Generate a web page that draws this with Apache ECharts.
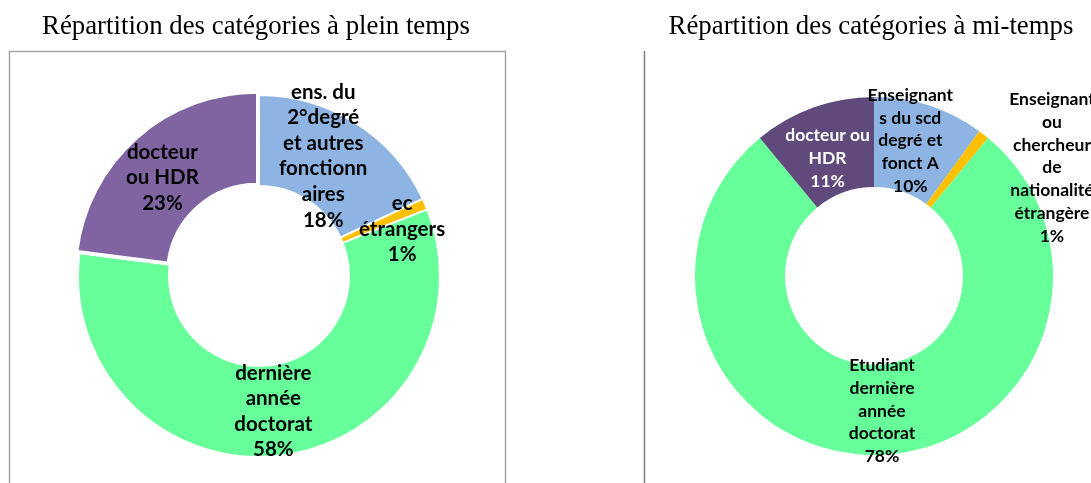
<!DOCTYPE html>
<html>
<head>
<meta charset="utf-8">
<script src="https://cdn.jsdelivr.net/npm/echarts@6/dist/echarts.min.js"></script>
<style>
  html, body { margin: 0; padding: 0; background: #fff; }
  #main { width: 1091px; height: 483px; }
</style>
</head>
<body>
<div id="main"></div>
<script>
// plein temps
var fullNames = ['ens. du\n2°degré\net autres\nfonctionn\naires', 'ec\nétrangers', 'dernière\nannée\ndoctorat', 'docteur\nou HDR'];
var fullValues = [18, 1, 58, 23];
// mi-temps
var halfNames = ['Enseignant\ns du scd\ndegré et\nfonct A', 'Enseignant\nou\nchercheur\nde\nnationalité\nétrangère', 'Etudiant\ndernière\nannée\ndoctorat', 'docteur ou\nHDR'];
var halfValues = [10, 1, 78, 11];

// styles
var fullColors = ['#8db4e2', '#ffc000', '#66ff99', '#8064a2'];
var halfColors = ['#8db4e2', '#ffc000', '#66ff99', '#604a7b'];
var fullOffsets = [[-10, -3], [16, 8], [-3, -2], [-3, 8]];
var halfOffsets = [[-6, -5], [94, 0], [8, -2], [0, 11]];
var halfTextColors = ['#000', '#000', '#000', '#fff'];

function buildData(names, values, colors, offsets, textColors) {
    return names.map(function (n, i) {
        return {
            name: n,
            value: values[i],
            itemStyle: { color: colors[i] },
            label: { offset: offsets[i], color: textColors ? textColors[i] : '#000' },
            select: { label: { offset: offsets[i] } }
        };
    });
}

var myChart = echarts.init(document.getElementById('main'));
var labelFmt = function (p) { return p.name + '\n' + p.value + '%'; };

var fullData = buildData(fullNames, fullValues, fullColors, fullOffsets);
fullData[3].selected = true;  // part détachée

var option = {
    backgroundColor: '#fff',
    animation: false,
    title: [
        {
            text: 'Répartition des catégories à plein temps',
            left: 251, top: 8, textAlign: 'center',
            textStyle: { fontFamily: 'Liberation Serif', fontSize: 26.8, fontWeight: 'normal', color: '#000' }
        },
        {
            text: 'Répartition des catégories à mi-temps',
            left: 866, top: 8, textAlign: 'center',
            textStyle: { fontFamily: 'Liberation Serif', fontSize: 26.8, fontWeight: 'normal', color: '#000' }
        }
    ],
    graphic: [
        {
            type: 'rect', silent: true,
            shape: { x: 9.5, y: 51.5, width: 496, height: 460 },
            style: { fill: 'none', stroke: '#a6a6a6', lineWidth: 1.5 }
        },
        {
            type: 'line', silent: true,
            shape: { x1: 644.5, y1: 51, x2: 644.5, y2: 483 },
            style: { stroke: '#808080', lineWidth: 1.5 }
        }
    ],
    series: [
        {
            name: 'plein temps',
            type: 'pie',
            center: [259, 276],
            radius: [90, 181],
            startAngle: 90,
            avoidLabelOverlap: false,
            selectedMode: 'single',
            selectedOffset: 3,
            itemStyle: { borderColor: '#fff', borderWidth: 2 },
            label: {
                show: true, position: 'inside', formatter: labelFmt,
                fontFamily: 'Lato', fontWeight: 'bold', fontSize: 20.5, lineHeight: 25.6, align: 'center'
            },
            select: { itemStyle: { borderColor: '#fff', borderWidth: 2 }, label: { color: '#000' } },
            labelLayout: { hideOverlap: false },
            labelLine: { show: false },
            emphasis: { scale: false },
            data: fullData
        },
        {
            name: 'mi-temps',
            type: 'pie',
            center: [874, 276],
            radius: [89, 179],
            startAngle: 90,
            avoidLabelOverlap: false,
            itemStyle: { borderWidth: 0 },
            label: {
                show: true, position: 'inside', formatter: labelFmt,
                fontFamily: 'Lato', fontWeight: 'bold', fontSize: 17.5, lineHeight: 22.8, align: 'center'
            },
            labelLayout: { hideOverlap: false },
            labelLine: { show: false },
            emphasis: { scale: false },
            data: buildData(halfNames, halfValues, halfColors, halfOffsets, halfTextColors)
        }
    ]
};
myChart.setOption(option);
</script>
</body>
</html>
